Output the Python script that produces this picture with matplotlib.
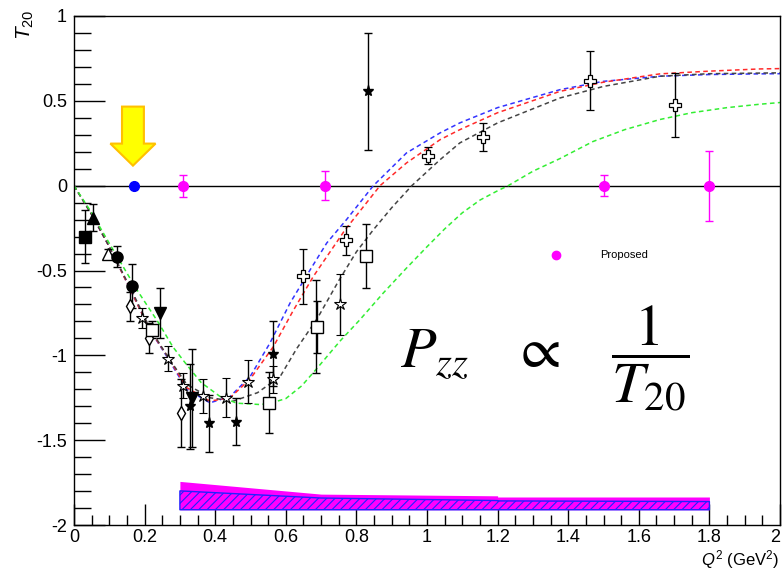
import matplotlib
matplotlib.use("Agg")
import matplotlib.pyplot as plt
from matplotlib.patches import Polygon
from matplotlib.ticker import MultipleLocator, FixedLocator, FixedFormatter

plt.rcParams['font.family'] = ['Liberation Sans', 'DejaVu Sans']
plt.rcParams['axes.unicode_minus'] = False
plt.rcParams['mathtext.fontset'] = 'custom'
plt.rcParams['mathtext.it'] = 'Liberation Sans:italic'
plt.rcParams['mathtext.rm'] = 'Liberation Sans'
plt.rcParams['hatch.linewidth'] = 0.8

# ---------------- data ----------------
# theory curves
blue_x = [0, 0.05, 0.1, 0.159, 0.215, 0.263, 0.319, 0.385, 0.442, 0.499, 0.555, 0.612, 0.669, 0.716, 0.772, 0.848, 0.942, 1.037, 1.093, 1.2, 1.377, 1.5, 1.66, 1.8, 1.943, 2.0]
blue_y = [0, -0.17, -0.36, -0.61, -0.85, -1.007, -1.20, -1.28, -1.243, -1.125, -0.928, -0.692, -0.496, -0.338, -0.2, 0.0, 0.193, 0.311, 0.37, 0.46, 0.566, 0.615, 0.645, 0.655, 0.659, 0.66]
red_x = [0, 0.05, 0.1, 0.159, 0.215, 0.263, 0.319, 0.385, 0.442, 0.499, 0.565, 0.62, 0.678, 0.768, 0.791, 0.867, 0.942, 1.037, 1.093, 1.2, 1.377, 1.5, 1.66, 1.8, 1.943, 2.0]
red_y = [0, -0.17, -0.36, -0.61, -0.85, -1.0, -1.19, -1.27, -1.25, -1.14, -0.948, -0.74, -0.535, -0.26, -0.2, 0.0, 0.134, 0.271, 0.33, 0.43, 0.556, 0.61, 0.659, 0.675, 0.688, 0.69]
black_x = [0, 0.05, 0.1, 0.159, 0.215, 0.263, 0.319, 0.385, 0.451, 0.52, 0.584, 0.631, 0.69, 0.75, 0.8, 0.848, 0.9, 0.957, 1.037, 1.093, 1.2, 1.377, 1.5, 1.66, 1.8, 2.0]
black_y = [0, -0.17, -0.36, -0.60, -0.84, -1.0, -1.17, -1.25, -1.27, -1.22, -1.125, -0.96, -0.78, -0.56, -0.39, -0.26, -0.13, 0.0, 0.153, 0.252, 0.37, 0.517, 0.585, 0.645, 0.66, 0.665]
green_x = [0, 0.05, 0.1, 0.177, 0.24, 0.28, 0.319, 0.36, 0.414, 0.461, 0.527, 0.555, 0.6, 0.645, 0.687, 0.754, 0.81, 0.876, 0.94, 1.0, 1.05, 1.1, 1.15, 1.2, 1.23, 1.3, 1.377, 1.47, 1.56, 1.66, 1.75, 1.85, 1.943, 2.0]
green_y = [0, -0.16, -0.34, -0.61, -0.81, -0.95, -1.055, -1.16, -1.243, -1.282, -1.29, -1.283, -1.255, -1.18, -1.08, -0.915, -0.79, -0.633, -0.49, -0.36, -0.255, -0.16, -0.085, -0.03, 0.0, 0.085, 0.16, 0.26, 0.33, 0.39, 0.43, 0.46, 0.48, 0.49]

# world data sets
sqf_x, sqf_y, sqf_e = [0.031], [-0.30], [0.157]
trif_x, trif_y, trif_e = [0.055], [-0.19], [0.08]
trio_x, trio_y, trio_e = [0.097], [-0.405], [0.03]
circf_x, circf_y, circf_e = [0.121, 0.163], [-0.42, -0.59], [0.062, 0.13]
diao_x, diao_y, diao_e = [0.159, 0.213, 0.302], [-0.712, -0.90, -1.34], [0.088, 0.088, 0.2]
tridf_x, tridf_y, tridf_e = [0.244, 0.333], [-0.75, -1.25], [0.145, 0.29]
staro_x = [0.194, 0.267, 0.31, 0.366, 0.431, 0.494, 0.565, 0.754]
staro_y = [-0.78, -1.02, -1.18, -1.24, -1.25, -1.155, -1.14, -0.70]
staro_e = [0.06, 0.073, 0.073, 0.1, 0.115, 0.128, 0.08, 0.18]
starf_x = [0.329, 0.382, 0.459, 0.563, 0.686, 0.834]
starf_y = [-1.30, -1.40, -1.39, -0.99, -0.83, 0.556]
starf_e = [0.25, 0.167, 0.14, 0.19, 0.275, 0.345]
sqo_x = [0.222, 0.553, 0.689, 0.827]
sqo_y = [-0.85, -1.28, -0.834, -0.413]
sqo_e = [0.05, 0.18, 0.152, 0.19]
crosso_x = [0.648, 0.771, 1.002, 1.159, 1.462, 1.703]
crosso_y = [-0.535, -0.323, 0.177, 0.289, 0.619, 0.474]
crosso_e = [0.16, 0.085, 0.052, 0.083, 0.172, 0.19]

# proposed measurement
prop_x = [0.31, 0.71, 1.5, 1.8]
prop_y = [0, 0, 0, 0]
prop_e = [0.065, 0.085, 0.06, 0.206]
blue_pt_x, blue_pt_y = [0.17], [0]

# systematic bands
band_x = [0.3, 0.7, 1.2, 1.2, 1.8]
band_lo = [-1.91, -1.91, -1.91, -1.91, -1.91]
band_mag_hi = [-1.743, -1.818, -1.828, -1.835, -1.835]
band_hatch_hi = [-1.799, -1.841, -1.856, -1.858, -1.862]

xticks = [0, 0.2, 0.4, 0.6, 0.8, 1, 1.2, 1.4, 1.6, 1.8, 2]
xlabels = ['0', '0.2', '0.4', '0.6', '0.8', '1', '1.2', '1.4', '1.6', '1.8', '2']
yticks = [-2, -1.5, -1, -0.5, 0, 0.5, 1]
ylabels = ['-2', '-1.5', '-1', '-0.5', '0', '0.5', '1']

# arrow geometry (x centre, shaft half width, head half width, top, head start, tip)
arrow_xc, arrow_sw, arrow_hw = 0.167, 0.031, 0.064
arrow_top, arrow_head, arrow_tip = 0.466, 0.248, 0.118

# ---------------- figure ----------------
fig = plt.figure(figsize=(7.82, 5.70), dpi=100)
ax = fig.add_axes([74/782, 1-525/570, (780-74)/782, (525-16)/570])
ax.set_xlim(0, 2)
ax.set_ylim(-2, 1)

ax.axhline(0, color='black', lw=1.0, zorder=1)

dash = (0, (3, 2.2))
ax.plot(blue_x, blue_y, color='#3333ff', lw=1.1, ls=dash, zorder=2)
ax.plot(red_x, red_y, color='#ff2a2a', lw=1.1, ls=dash, zorder=2)
ax.plot(black_x, black_y, color='#444444', lw=1.1, ls=dash, zorder=2)
ax.plot(green_x, green_y, color='#33ee33', lw=1.1, ls=dash, zorder=2)

eb = dict(ecolor='black', elinewidth=1.0, capsize=3, capthick=1.0, ls='none', zorder=3)
ax.errorbar(sqf_x, sqf_y, yerr=sqf_e, marker='s', ms=8, mfc='black', mec='black', **eb)
ax.errorbar(trif_x, trif_y, yerr=trif_e, marker='^', ms=8, mfc='black', mec='black', **eb)
ax.errorbar(trio_x, trio_y, yerr=trio_e, marker='^', ms=8, mfc='white', mec='black', **eb)
ax.errorbar(circf_x, circf_y, yerr=circf_e, marker='o', ms=8, mfc='black', mec='black', **eb)
ax.errorbar(diao_x, diao_y, yerr=diao_e, marker='d', ms=7, mfc='white', mec='black', **eb)
ax.errorbar(tridf_x, tridf_y, yerr=tridf_e, marker='v', ms=8, mfc='black', mec='black', **eb)
ax.errorbar(staro_x, staro_y, yerr=staro_e, marker='*', ms=9, mfc='white', mec='black', mew=0.8, **eb)
ax.errorbar(starf_x, starf_y, yerr=starf_e, marker='*', ms=8, mfc='black', mec='black', **eb)
ax.errorbar(sqo_x, sqo_y, yerr=sqo_e, marker='s', ms=8, mfc='white', mec='black', **eb)
ax.errorbar(crosso_x, crosso_y, yerr=crosso_e, marker='P', ms=9, mfc='white', mec='black', mew=0.9, **eb)

ax.errorbar(prop_x, prop_y, yerr=prop_e, marker='o', ms=7, mfc='#ff00ff', mec='#ff00ff',
            ecolor='#ff00ff', elinewidth=1.0, capsize=3, capthick=1.0, ls='none', zorder=4)
ax.plot(blue_pt_x, blue_pt_y, marker='o', ms=7, color='#0000ff', ls='none', zorder=4)

# bands
ax.fill_between(band_x, band_lo, band_mag_hi, color='#ff00ff', lw=0, zorder=2)
ax.fill_between(band_x, band_lo, band_hatch_hi, facecolor='#ff00ff', edgecolor='#2222ff',
                hatch='////', lw=1.0, zorder=2)

# arrow
arrow_pts = [(arrow_xc - arrow_sw, arrow_top), (arrow_xc + arrow_sw, arrow_top),
             (arrow_xc + arrow_sw, arrow_head), (arrow_xc + arrow_hw, arrow_head),
             (arrow_xc, arrow_tip), (arrow_xc - arrow_hw, arrow_head),
             (arrow_xc - arrow_sw, arrow_head)]
ax.add_patch(Polygon(arrow_pts, closed=True, facecolor='#ffff00', edgecolor='#ffc000', lw=1.5, zorder=5))

# legend
ax.plot([1.365], [-0.407], marker='o', ms=6, color='#ff00ff', ls='none', zorder=4)
ax.text(1.49, -0.407, 'Proposed', fontsize=8, va='center', ha='left')

# formula
ax.text(1.333, -1.02, r'$P_{zz}\quad\propto\quad\dfrac{1}{T_{20}}$', fontsize=42,
        ha='center', va='center', math_fontfamily='stix')

# axes styling
ax.xaxis.set_major_locator(FixedLocator(xticks))
ax.xaxis.set_major_formatter(FixedFormatter(xlabels))
ax.yaxis.set_major_locator(FixedLocator(yticks))
ax.yaxis.set_major_formatter(FixedFormatter(ylabels))
ax.xaxis.set_minor_locator(MultipleLocator(0.05))
ax.yaxis.set_minor_locator(MultipleLocator(0.1))
ax.tick_params(axis='x', which='major', direction='in', length=15, width=1, labelsize=13, pad=3, top=False)
ax.tick_params(axis='x', which='minor', direction='in', length=7, width=1, top=False)
ax.tick_params(axis='y', which='major', direction='in', length=22, width=1, labelsize=13, pad=5, right=False)
ax.tick_params(axis='y', which='minor', direction='in', length=12, width=1, right=False)
for s in ax.spines.values():
    s.set_linewidth(1.0)
fig.canvas.draw()
ax.get_xticklabels()[-1].set_horizontalalignment('right')

fig.text(25/782, 1-25/570, r'$T_{20}$', rotation=90, fontsize=15, ha='center', va='center')
fig.text(779/782, 1-559.5/570, r'$Q^{2}$ (GeV$^{2}$)', fontsize=12, ha='right', va='center')

fig.savefig('out.png', dpi=100)
